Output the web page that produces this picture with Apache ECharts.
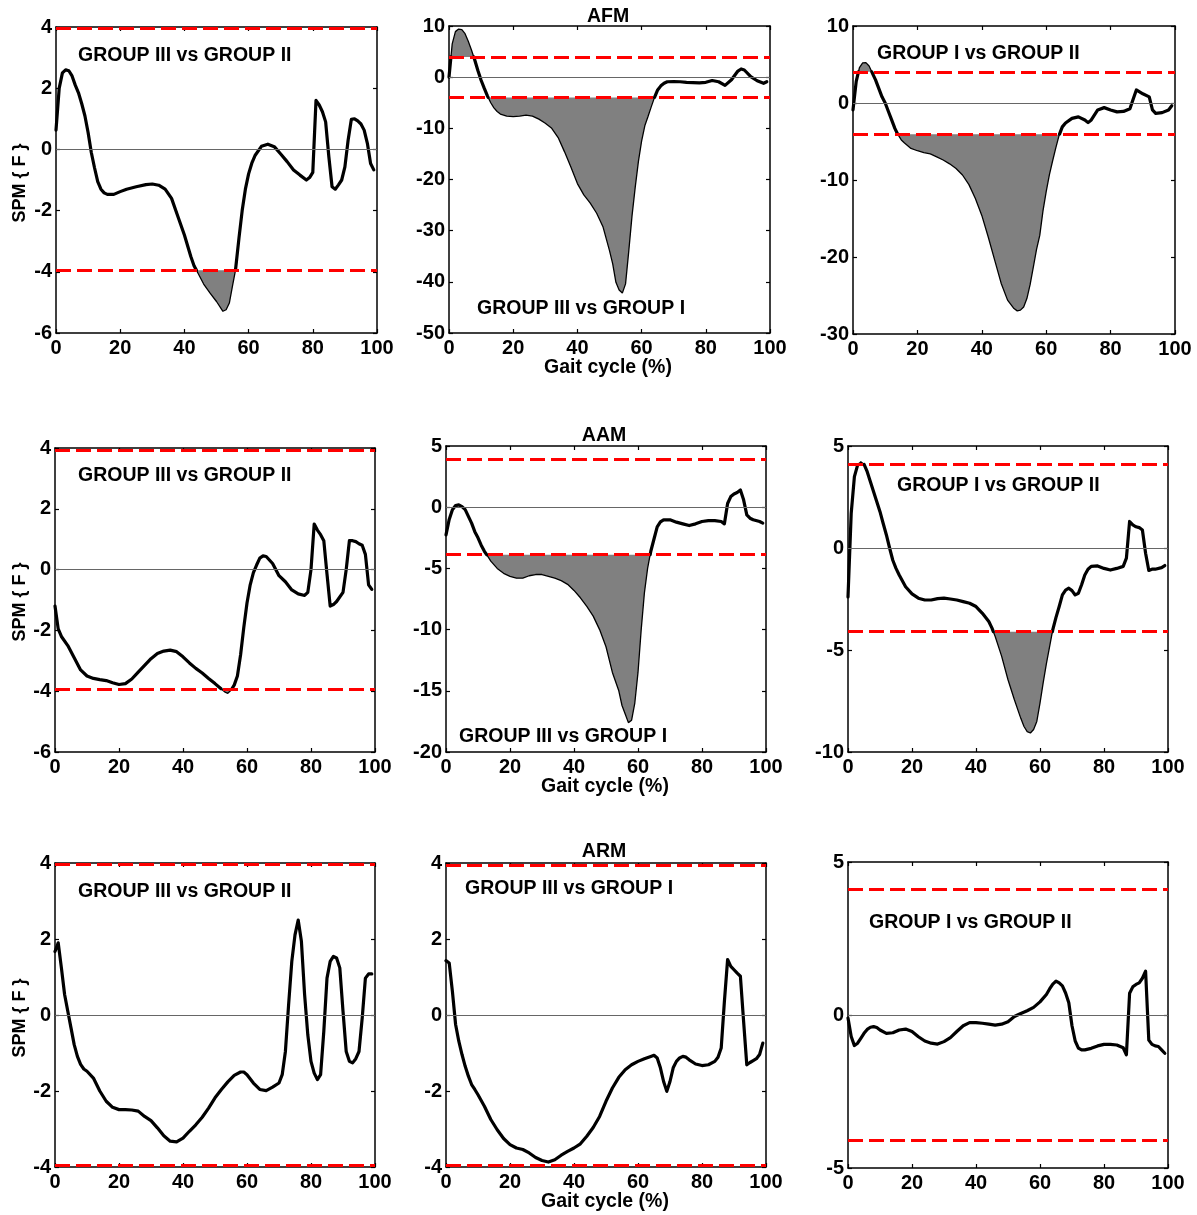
<!DOCTYPE html>
<html><head><meta charset="utf-8">
<script src="https://cdn.jsdelivr.net/npm/echarts@6/dist/echarts.min.js"></script>
<style>html,body{margin:0;padding:0;background:#fff}#c{width:1197px;height:1215px}</style>
</head><body><div id="c"></div>
<script>
// ---------------- DATA ----------------
// SPM{F} curves, [gait cycle %, F]
const afm31 = [[0,0.63],[1,2.0],[2,2.5],[3,2.6],[4,2.57],[5,2.4],[6,2.1],[7,1.85],[8,1.5],[9,1.1],[10,0.55],[11,-0.1],[12,-0.6],[13,-1.05],[14,-1.3],[15,-1.42],[16,-1.47],[18,-1.47],[20,-1.38],[22,-1.3],[25,-1.22],[28,-1.15],[30,-1.13],[32,-1.17],[34,-1.3],[36,-1.6],[38,-2.2],[40,-2.8],[42,-3.5],[43,-3.8],[44,-4.0],[46,-4.4],[48,-4.7],[50,-4.97],[52,-5.29],[53,-5.24],[54,-5.02],[55,-4.45],[56,-3.9],[57,-2.9],[58,-2.0],[59,-1.3],[60,-0.8],[61,-0.45],[62,-0.2],[64,0.1],[66,0.17],[68,0.09],[70,-0.15],[72,-0.4],[74,-0.67],[76,-0.84],[78,-1.0],[79,-0.92],[80,-0.75],[81,1.6],[82,1.45],[83,1.23],[84,0.9],[85,-0.24],[86,-1.22],[87,-1.3],[88,-1.16],[89,-1.0],[90,-0.57],[91,0.3],[92,0.98],[93,1.0],[94,0.93],[95,0.83],[96,0.63],[97,0.2],[98,-0.46],[99,-0.67]];
const afm32 = [[0,0],[1,6.5],[2,8.9],[3,9.4],[4,9.3],[5,8.5],[6,7.0],[7,5.3],[8,3.4],[9,1.3],[10,-0.6],[11,-2.2],[12,-3.7],[13,-5.0],[14,-6.0],[15,-6.7],[16,-7.2],[18,-7.6],[20,-7.7],[22,-7.6],[24,-7.4],[26,-7.6],[28,-8.2],[30,-9.0],[32,-10.0],[34,-11.8],[36,-14.6],[38,-17.6],[40,-20.8],[42,-23.0],[44,-24.6],[46,-26.6],[48,-29.3],[50,-33.9],[51,-36.5],[52,-40.1],[53,-41.6],[54,-42.2],[55,-40.4],[56,-34.0],[57,-27.2],[58,-21.6],[59,-16.5],[60,-12.5],[61,-9.5],[62,-7.7],[63,-5.8],[64,-4.0],[65,-2.5],[66,-1.7],[67,-1.2],[68,-0.9],[70,-0.85],[72,-0.9],[74,-1.0],[76,-1.05],[78,-1.1],[80,-1.0],[82,-0.65],[84,-0.9],[86,-1.6],[88,-0.5],[90,1.2],[91,1.6],[92,1.4],[94,0.1],[96,-0.7],[98,-1.2],[99,-0.9]];
const afm12 = [[0,-0.9],[1,2.8],[2,4.6],[3,5.2],[4,5.25],[5,4.8],[6,3.9],[7,3.0],[8,1.9],[9,0.8],[10,0],[11,-1.1],[12,-2.2],[13,-3.3],[14,-4.15],[15,-4.8],[16,-5.2],[18,-5.9],[20,-6.2],[22,-6.45],[24,-6.6],[26,-7.0],[28,-7.4],[30,-7.9],[32,-8.5],[34,-9.35],[36,-10.6],[38,-12.4],[40,-14.6],[42,-17.4],[44,-20.4],[46,-23.4],[48,-25.6],[50,-26.7],[51,-27.0],[52,-26.9],[53,-26.5],[54,-25.4],[55,-23.6],[56,-21.3],[57,-19.0],[58,-17.2],[59,-14.0],[60,-11.5],[61,-9.3],[62,-7.5],[63,-5.8],[64,-4.2],[65,-3.1],[66,-2.6],[68,-2.0],[70,-1.8],[72,-2.2],[73,-2.55],[74,-2.2],[76,-0.9],[78,-0.6],[80,-0.9],[82,-1.15],[84,-1.1],[86,-0.75],[87,0.5],[88,1.7],[90,1.2],[92,0.8],[93,-0.9],[94,-1.35],[96,-1.25],[98,-0.9],[99,-0.35]];
const aam31 = [[0,-1.2],[1,-1.95],[2,-2.2],[4,-2.5],[6,-2.9],[8,-3.3],[10,-3.5],[12,-3.58],[14,-3.62],[16,-3.65],[18,-3.72],[20,-3.78],[22,-3.75],[24,-3.6],[26,-3.37],[28,-3.15],[30,-2.93],[32,-2.76],[34,-2.68],[36,-2.65],[38,-2.7],[40,-2.87],[42,-3.07],[44,-3.25],[46,-3.4],[48,-3.58],[50,-3.75],[52,-3.93],[53,-4.02],[54,-4.07],[55,-3.97],[56,-3.8],[57,-3.5],[58,-2.8],[59,-1.9],[60,-1.1],[61,-0.5],[62,-0.1],[63,0.15],[64,0.38],[65,0.45],[66,0.43],[68,0.2],[70,-0.2],[72,-0.4],[74,-0.67],[76,-0.8],[78,-0.85],[79,-0.75],[80,0.0],[81,1.5],[82,1.3],[83,1.15],[84,0.95],[85,-0.15],[86,-1.2],[87,-1.15],[88,-1.05],[90,-0.75],[91,0.0],[92,0.95],[93,0.95],[94,0.92],[95,0.85],[96,0.8],[97,0.5],[98,-0.5],[99,-0.65]];
const aam32 = [[0,-2.26],[1,-1.0],[2,-0.2],[3,0.13],[4,0.19],[5,0.05],[6,-0.2],[7,-0.75],[8,-1.3],[9,-2.0],[10,-2.5],[11,-3.1],[12,-3.6],[13,-4.0],[14,-4.4],[16,-5.0],[18,-5.4],[20,-5.65],[22,-5.8],[24,-5.8],[26,-5.6],[28,-5.5],[30,-5.5],[32,-5.65],[34,-5.8],[36,-6.0],[38,-6.3],[40,-6.8],[42,-7.4],[44,-8.1],[46,-8.9],[48,-10.0],[50,-11.4],[52,-13.5],[54,-15.0],[55,-16.2],[56,-16.9],[57,-17.6],[58,-17.4],[59,-16.0],[60,-13.5],[61,-10.0],[62,-7.0],[63,-5.0],[64,-3.6],[65,-2.6],[66,-1.6],[67,-1.2],[68,-1.03],[70,-1.03],[72,-1.22],[74,-1.36],[76,-1.5],[78,-1.36],[80,-1.17],[82,-1.1],[84,-1.1],[86,-1.17],[87,-1.36],[88,0.3],[89,0.87],[90,1.08],[91,1.2],[92,1.4],[93,0.6],[94,-0.63],[95,-0.9],[96,-1.03],[98,-1.17],[99,-1.3]];
const aam12 = [[0,-2.4],[1,1.7],[2,3.5],[3,4.06],[4,4.23],[5,4.11],[6,3.74],[7,3.25],[8,2.76],[9,2.27],[10,1.78],[11,1.2],[12,0.64],[13,0],[14,-0.6],[15,-1.0],[16,-1.32],[18,-1.9],[20,-2.25],[22,-2.46],[24,-2.55],[26,-2.55],[28,-2.48],[30,-2.46],[32,-2.5],[34,-2.55],[36,-2.63],[38,-2.71],[40,-2.87],[42,-3.2],[44,-3.6],[45,-3.93],[46,-4.34],[48,-5.3],[50,-6.46],[52,-7.44],[54,-8.35],[55,-8.75],[56,-9.0],[57,-9.07],[58,-8.9],[59,-8.5],[60,-7.6],[61,-6.6],[62,-5.67],[63,-4.83],[64,-4.0],[65,-3.4],[66,-2.87],[67,-2.3],[68,-2.06],[69,-1.97],[70,-2.09],[71,-2.3],[72,-2.22],[73,-1.8],[74,-1.32],[75,-1.04],[76,-0.9],[78,-0.88],[80,-1.0],[82,-1.08],[84,-1.0],[86,-0.9],[87,-0.5],[88,1.3],[89,1.13],[90,1.04],[91,1.0],[92,0.88],[93,-0.26],[94,-1.1],[95,-1.04],[96,-1.04],[98,-0.96],[99,-0.86]];
const arm31 = [[0,1.67],[1,1.9],[2,1.24],[3,0.54],[4,0.1],[5,-0.34],[6,-0.78],[7,-1.09],[8,-1.3],[9,-1.42],[10,-1.48],[12,-1.66],[14,-2.0],[16,-2.27],[18,-2.43],[20,-2.49],[22,-2.49],[24,-2.5],[26,-2.53],[28,-2.67],[30,-2.78],[32,-2.97],[34,-3.18],[36,-3.32],[38,-3.34],[40,-3.24],[42,-3.06],[44,-2.89],[46,-2.69],[48,-2.45],[50,-2.18],[52,-1.96],[54,-1.76],[56,-1.59],[58,-1.5],[59,-1.5],[60,-1.57],[62,-1.79],[64,-1.96],[66,-1.99],[68,-1.9],[70,-1.79],[71,-1.57],[72,-0.96],[73,0.27],[74,1.41],[75,2.11],[76,2.5],[77,1.94],[78,0.54],[79,-0.52],[80,-1.22],[81,-1.53],[82,-1.7],[83,-1.57],[84,-0.43],[85,0.97],[86,1.41],[87,1.54],[88,1.5],[89,1.24],[90,0.1],[91,-0.96],[92,-1.22],[93,-1.26],[94,-1.15],[95,-0.96],[96,-0.08],[97,0.97],[98,1.08],[99,1.08]];
const arm32 = [[0,1.43],[1,1.37],[2,0.62],[3,-0.25],[4,-0.69],[5,-1.04],[6,-1.35],[7,-1.61],[8,-1.83],[9,-1.96],[10,-2.1],[12,-2.4],[14,-2.75],[16,-3.02],[18,-3.25],[20,-3.41],[22,-3.5],[24,-3.54],[26,-3.63],[28,-3.75],[30,-3.83],[32,-3.87],[34,-3.81],[36,-3.69],[38,-3.59],[40,-3.5],[42,-3.39],[44,-3.19],[46,-2.96],[48,-2.67],[50,-2.27],[52,-1.92],[54,-1.64],[56,-1.44],[58,-1.31],[60,-1.22],[62,-1.15],[64,-1.09],[65,-1.06],[66,-1.13],[67,-1.39],[68,-1.75],[69,-2.01],[70,-1.75],[71,-1.39],[72,-1.22],[73,-1.13],[74,-1.09],[75,-1.11],[76,-1.18],[78,-1.29],[80,-1.33],[82,-1.31],[84,-1.22],[85,-1.11],[86,-0.87],[87,0.36],[88,1.46],[89,1.28],[90,1.19],[91,1.1],[92,1.02],[93,-0.17],[94,-1.31],[95,-1.25],[96,-1.2],[97,-1.15],[98,-1.04],[99,-0.74]];
const arm12 = [[0,-0.1],[1,-0.7],[2,-1.0],[3,-0.92],[4,-0.76],[5,-0.6],[6,-0.47],[7,-0.4],[8,-0.38],[9,-0.41],[10,-0.49],[12,-0.6],[14,-0.58],[16,-0.49],[18,-0.46],[20,-0.54],[22,-0.71],[24,-0.85],[26,-0.92],[28,-0.95],[30,-0.87],[32,-0.74],[34,-0.54],[36,-0.35],[38,-0.25],[40,-0.25],[42,-0.27],[44,-0.3],[46,-0.33],[48,-0.3],[50,-0.22],[52,-0.05],[54,0.05],[56,0.14],[58,0.25],[60,0.43],[62,0.67],[63,0.85],[64,1.01],[65,1.11],[66,1.05],[67,0.95],[68,0.72],[69,0.4],[70,-0.35],[71,-0.85],[72,-1.08],[73,-1.14],[74,-1.14],[76,-1.09],[78,-1.01],[80,-0.96],[82,-0.96],[84,-0.98],[86,-1.07],[87,-1.3],[88,0.71],[89,0.92],[90,1.0],[91,1.05],[92,1.2],[93,1.43],[94,-0.82],[95,-0.96],[96,-1.01],[97,-1.03],[98,-1.14],[99,-1.25]];

const CURVES = [afm31, afm32, afm12, aam31, aam32, aam12, arm31, arm32, arm12];
const THRESH = [3.95, 3.95, 4.05, 3.92, 3.88, 4.1, 3.96, 3.95, 4.1];   // critical F*
const Y_MIN  = [-6, -50, -30, -6, -20, -10, -4, -4, -5];
const Y_MAX  = [4, 10, 10, 4, 5, 5, 4, 4, 5];
const Y_STEP = [2, 10, 10, 2, 5, 5, 2, 2, 5];
const X_MIN = 0, X_MAX = 100, X_STEP = 20;
const COMPARISONS = ['GROUP III vs GROUP II','GROUP III vs GROUP I','GROUP I vs GROUP II',
                     'GROUP III vs GROUP II','GROUP III vs GROUP I','GROUP I vs GROUP II',
                     'GROUP III vs GROUP II','GROUP III vs GROUP I','GROUP I vs GROUP II'];
const ROW_TITLES = ['AFM', 'AAM', 'ARM'];
const X_NAME = 'Gait cycle (%)';
const Y_NAME = 'SPM { F }';

// ---------------- LAYOUT ----------------
const GRIDS = [[56,27,321,306],[449,26,321,307],[853,26,322,308],
               [55,448,320,304],[446,446,320,306],[848,446,320,306],
               [55,863,320,304],[446,863,320,304],[848,862,320,306]];
const COMP_POS = [[78,56],[477,309],[877,54],[78,476],[459,737],[897,486],[78,892],[465,889],[869,923]];
const TITLE_POS = [[608,17],[604,436],[604,852]];
const XNAME_POS = [[608,368],[605,787],[605,1202]];
const YNAME_POS = [[20,183],[20,602],[20,1018]];
const FAMILY = '"Liberation Sans", Arial, sans-serif';
const FONT = 'bold 19.5px ' + FAMILY;

// split a curve into within-threshold part and supra-threshold parts (with crossing points)
function split(pts, thr) {
  const out = {'0': [], '1': [], '-1': []};
  const st = v => v > thr ? 1 : (v < -thr ? -1 : 0);
  for (let i = 0; i < pts.length; i++) {
    const s = st(pts[i][1]);
    if (i > 0) {
      let sp = st(pts[i-1][1]);
      const [x0, y0] = pts[i-1], [x1, y1] = pts[i];
      while (sp !== s) {
        const next = sp + (s > sp ? 1 : -1);
        const L = (sp === 1 || next === 1) ? thr : -thr;
        const t = (L - y0) / (y1 - y0);
        const xc = x0 + t * (x1 - x0);
        out[sp].push([xc, L]); out[sp].push([xc, '-']);
        out[next].push([xc, L]);
        sp = next;
      }
    }
    out[s].push(pts[i]);
  }
  return out;
}

const axisCommon = {
  type: 'value',
  axisLine: {show: true, onZero: false, lineStyle: {color: '#000', width: 1.5}},
  axisTick: {show: true, inside: true, length: 4, lineStyle: {color: '#000', width: 1.2}},
  splitLine: {show: false},
  axisLabel: {color: '#000', fontWeight: 'bold', fontSize: 20, fontFamily: FAMILY}
};

const grid = [], xAxis = [], yAxis = [], series = [], graphic = [];
CURVES.forEach((pts, i) => {
  const g = GRIDS[i];
  grid.push({left: g[0], top: g[1], width: g[2], height: g[3]});
  xAxis.push(Object.assign({}, axisCommon, {gridIndex: i, position: 'bottom', min: X_MIN, max: X_MAX, interval: X_STEP,
    axisLabel: Object.assign({}, axisCommon.axisLabel, {margin: 5, showMinLabel: true, showMaxLabel: true})}));
  xAxis.push(Object.assign({}, axisCommon, {gridIndex: i, position: 'top', min: X_MIN, max: X_MAX, interval: X_STEP, axisLabel: {show: false}}));
  yAxis.push(Object.assign({}, axisCommon, {gridIndex: i, position: 'left', min: Y_MIN[i], max: Y_MAX[i], interval: Y_STEP[i],
    axisLabel: Object.assign({}, axisCommon.axisLabel, {margin: 4, showMinLabel: true, showMaxLabel: true})}));
  yAxis.push(Object.assign({}, axisCommon, {gridIndex: i, position: 'right', min: Y_MIN[i], max: Y_MAX[i], interval: Y_STEP[i], axisLabel: {show: false}}));

  const thr = THRESH[i];
  const parts = split(pts, thr);
  const xi = 2 * i, yi = 2 * i;
  // zero reference line
  series.push({
    type: 'line', xAxisIndex: xi, yAxisIndex: yi, data: pts, showSymbol: false, silent: true, z: 1,
    lineStyle: {width: 0, opacity: 0},
    markLine: {
      symbol: ['none', 'none'], silent: true, animation: false, label: {show: false},
      data: [{yAxis: 0, lineStyle: {color: '#666', width: 1, type: 'solid'}}]
    }
  });
  // supra-threshold clusters
  [['-1', -thr], ['1', thr]].forEach(([k, org]) => {
    if (parts[k].length) {
      series.push({
        type: 'line', xAxisIndex: xi, yAxisIndex: yi, data: parts[k], showSymbol: false, silent: true, z: 2,
        connectNulls: false,
        lineStyle: {color: '#000', width: 1.3},
        areaStyle: {color: '#808080', opacity: 1, origin: org}
      });
    }
  });
  // critical thresholds
  series.push({
    type: 'line', xAxisIndex: xi, yAxisIndex: yi, data: pts, showSymbol: false, silent: true, z: 3,
    lineStyle: {width: 0, opacity: 0},
    markLine: {
      symbol: ['none', 'none'], silent: true, animation: false, label: {show: false},
      data: [
        {yAxis: thr, lineStyle: {color: '#ff0000', width: 3.2, type: [15, 6]}},
        {yAxis: -thr, lineStyle: {color: '#ff0000', width: 3.2, type: [15, 6]}}
      ]
    }
  });
  // SPM{F} trajectory
  series.push({
    type: 'line', xAxisIndex: xi, yAxisIndex: yi, data: parts['0'], showSymbol: false, silent: true, z: 4,
    connectNulls: false,
    lineStyle: {color: '#000', width: 3.2, cap: 'round', join: 'round'}
  });

  graphic.push({type: 'text', x: COMP_POS[i][0], y: COMP_POS[i][1], silent: true,
    style: {text: COMPARISONS[i], font: FONT, fill: '#000', textAlign: 'left', textVerticalAlign: 'middle', align: 'left', verticalAlign: 'middle'}});
});
ROW_TITLES.forEach((t, r) => {
  graphic.push({type: 'text', x: TITLE_POS[r][0], y: TITLE_POS[r][1], silent: true,
    style: {text: t, font: FONT, fill: '#000', textAlign: 'center', textVerticalAlign: 'middle', align: 'center', verticalAlign: 'middle'}});
  graphic.push({type: 'text', x: XNAME_POS[r][0], y: XNAME_POS[r][1], silent: true,
    style: {text: X_NAME, font: FONT, fill: '#000', textAlign: 'center', textVerticalAlign: 'middle', align: 'center', verticalAlign: 'middle'}});
  graphic.push({type: 'text', x: YNAME_POS[r][0], y: YNAME_POS[r][1], rotation: Math.PI / 2, silent: true,
    style: {text: Y_NAME, font: 'bold 18px ' + FAMILY, fill: '#000', textAlign: 'center', textVerticalAlign: 'middle', align: 'center', verticalAlign: 'middle'}});
});

const chart = echarts.init(document.getElementById('c'), null, {renderer: 'canvas'});
chart.setOption({
  animation: false,
  backgroundColor: '#fff',
  grid, xAxis, yAxis, series, graphic
});
</script></body></html>
